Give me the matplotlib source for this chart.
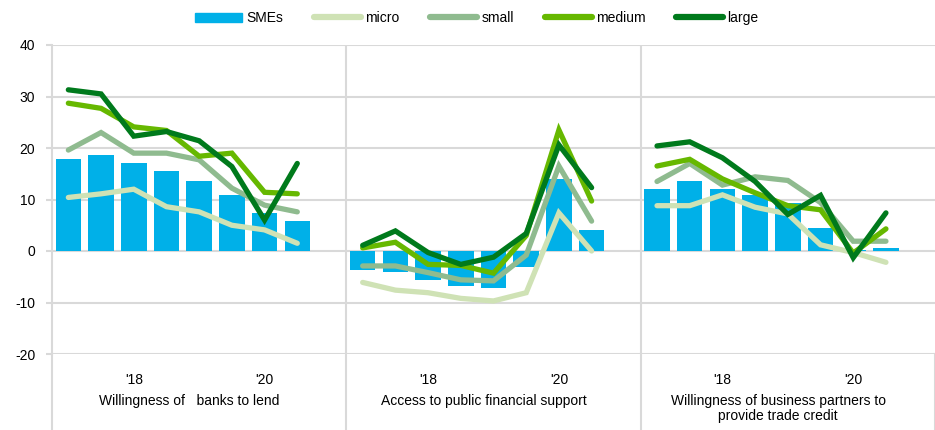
import numpy as np
import matplotlib
matplotlib.use("Agg")
import matplotlib.pyplot as plt
from matplotlib.patches import Patch
from matplotlib.lines import Line2D

plt.rcParams['font.family'] = ['Liberation Sans', 'DejaVu Sans']
plt.rcParams['axes.unicode_minus'] = False

# 三个面板的标题
panels = ['Willingness of   banks to lend',
          'Access to public financial support',
          'Willingness of business partners to\nprovide trade credit']
tick_labels = ["'18", "'20"]
tick_idx = [2, 6]

# 每个面板 8 个半年度数据点
smes = [[17.8, 18.6, 17.0, 15.5, 13.6, 10.9, 7.4, 5.8],
        [-3.7, -4.1, -5.6, -6.8, -7.2, -3.2, 14.0, 4.0],
        [12.0, 13.6, 12.1, 10.9, 9.3, 4.4, 0.2, 0.5]]
micro = [[10.4, 11.1, 12.0, 8.6, 7.6, 5.0, 4.1, 1.5],
         [-6.1, -7.6, -8.1, -9.2, -9.7, -8.1, 7.4, 0.0],
         [8.8, 8.8, 10.9, 8.5, 7.2, 1.2, -0.3, -2.2]]
small = [[19.6, 23.0, 19.0, 19.0, 17.7, 12.2, 8.9, 7.6],
         [-2.9, -2.9, -4.2, -5.6, -5.8, -0.8, 16.5, 5.8],
         [13.5, 17.0, 12.8, 14.4, 13.7, 9.4, 1.9, 1.9]]
medium = [[28.7, 27.7, 24.1, 23.4, 18.4, 19.0, 11.4, 11.1],
          [0.6, 1.7, -2.6, -2.8, -4.3, 3.0, 23.5, 9.7],
          [16.5, 17.8, 14.0, 11.3, 8.8, 8.0, -0.4, 4.3]]
large = [[31.3, 30.5, 22.3, 23.2, 21.4, 16.4, 6.0, 17.0],
         [1.1, 3.9, -0.3, -2.6, -1.2, 3.4, 20.6, 12.3],
         [20.4, 21.2, 18.1, 13.5, 7.1, 10.8, -1.3, 7.4]]

series = [('micro', micro, '#CFE2B5'),
          ('small', small, '#8FBB8F'),
          ('medium', medium, '#66B800'),
          ('large', large, '#007A1C')]
bar_color = '#00B0E8'
grid_color = '#D9D9D9'

fig = plt.figure(figsize=(9.35, 4.3), dpi=100)
ax = fig.add_axes([52 / 935, 1 - 354 / 430, 1 - 52 / 935, (354 - 45) / 430])

n = 9  # 每个面板 8 个点 + 1 个空位
for p in range(3):
    x = np.arange(8) + p * n
    ax.bar(x, smes[p], width=0.78, color=bar_color, zorder=2)
    for name, vals, col in series:
        ax.plot(x, vals[p], color=col, lw=3.8, solid_capstyle='round',
                solid_joinstyle='miter', zorder=3)

ax.set_xlim(-0.5, 3 * n - 0.5)
ax.set_ylim(-20, 40)
ax.set_yticks(range(-20, 41, 10))
ax.yaxis.grid(True, color=grid_color, lw=1.5, zorder=0)
for s in ['top', 'right', 'bottom']:
    ax.spines[s].set_visible(False)
ax.spines['left'].set_color(grid_color)
ax.spines['left'].set_linewidth(1.5)
ax.tick_params(axis='y', length=4, color=grid_color, width=1.5,
               labelsize=10, pad=8)

xt = [p * n + i for p in range(3) for i in tick_idx]
ax.set_xticks(xt)
ax.set_xticklabels(tick_labels * 3, fontsize=10)
ax.tick_params(axis='x', length=0, pad=14)

# 面板分隔线，延伸到下方文字区
for p in range(1, 3):
    ax.plot([p * n - 0.5] * 2, [0, 1], transform=ax.get_xaxis_transform(),
            color=grid_color, lw=1.5, zorder=1)
for p in range(0, 4):
    ax.plot([p * n - 0.5] * 2, [-0.25, 0], transform=ax.get_xaxis_transform(),
            color=grid_color, lw=1.5, clip_on=False, zorder=1)

for p, lab in enumerate(panels):
    ax.text(p * n + 3.7, -0.128, lab, transform=ax.get_xaxis_transform(),
            ha='center', va='top', fontsize=10, linespacing=1.15)

handles = [Patch(color=bar_color, label='SMEs')]
handles += [Line2D([], [], color=c, lw=4.5, solid_capstyle='round', label=nm)
            for nm, _, c in series]
fig.legend(handles=handles, loc='center', bbox_to_anchor=(0.51, 1 - 18 / 430),
           ncol=5, frameon=False, fontsize=10, handlelength=3.4,
           handletextpad=0.3, columnspacing=2.2, handleheight=0.6)

fig.savefig('out.png', dpi=100, facecolor='white')
